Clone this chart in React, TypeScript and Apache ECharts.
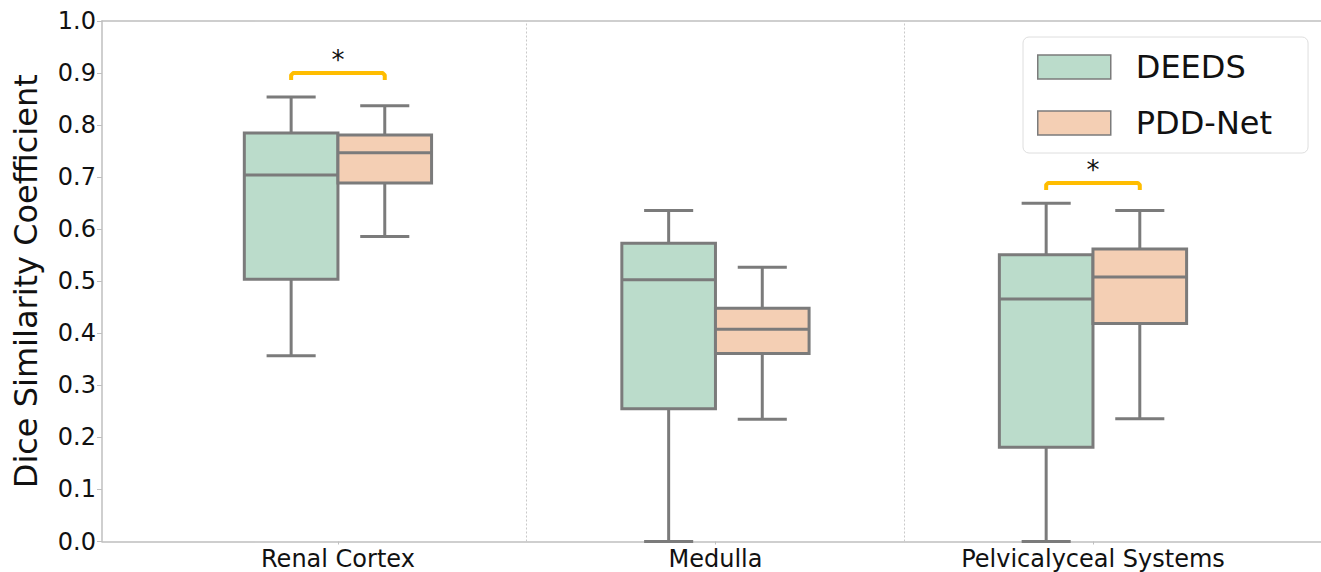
import React, { useEffect, useRef } from "react";
import * as echarts from "echarts";

const categories = ["Renal Cortex", "Medulla", "Pelvicalyceal Systems"];
const catIndex = [0, 1, 2];
const tickValues = [0, 0.1, 0.2, 0.3, 0.4, 0.5, 0.6, 0.7, 0.8, 0.9, 1.0];

// DEEDS: lower whisker, Q1, median, Q3, upper whisker
const deedsLow = [0.357, 0.0, 0.0];
const deedsQ1 = [0.504, 0.255, 0.181];
const deedsMed = [0.704, 0.503, 0.466];
const deedsQ3 = [0.785, 0.573, 0.551];
const deedsHigh = [0.854, 0.636, 0.65];

// PDD-Net
const pddLow = [0.586, 0.235, 0.236];
const pddQ1 = [0.689, 0.361, 0.419];
const pddMed = [0.747, 0.408, 0.508];
const pddQ3 = [0.781, 0.448, 0.562];
const pddHigh = [0.837, 0.527, 0.636];

// significance brackets
const sigCats = [0, 2];
const sigLevels = [0.9, 0.689];
const sigLabels = ["*", "*"];

const separators = [0.5, 1.5];

const GREEN = "#bbdccb";
const PEACH = "#f4cfb4";
const LINE = "#7b7b7b";
const SPINE = "#bfbfbf";
const FONT = "DejaVu Sans";
const HALF = 0.124;
const CAP = 0.065;
const X_MIN = -0.625;
const X_MAX = 2.604;

function boxRenderer(offset: number) {
  return (params: any, api: any) => {
    const c = api.value(0) + offset;
    const lo = api.value(1);
    const q1 = api.value(2);
    const med = api.value(3);
    const q3 = api.value(4);
    const hi = api.value(5);
    const tl = api.coord([c - HALF, q3]);
    const br = api.coord([c + HALF, q1]);
    const mid = api.coord([c, med]);
    const pHi = api.coord([c, hi]);
    const pLo = api.coord([c, lo]);
    const capL = api.coord([c - CAP, 0])[0];
    const capR = api.coord([c + CAP, 0])[0];
    const ls = { stroke: LINE, lineWidth: 3 };
    const fill = api.visual("color");
    return {
      type: "group",
      children: [
        { type: "line", shape: { x1: pHi[0], y1: pHi[1], x2: pHi[0], y2: tl[1] }, style: ls },
        { type: "line", shape: { x1: pLo[0], y1: br[1], x2: pLo[0], y2: pLo[1] }, style: ls },
        { type: "line", shape: { x1: capL, y1: pHi[1], x2: capR, y2: pHi[1] }, style: ls },
        { type: "line", shape: { x1: capL, y1: pLo[1], x2: capR, y2: pLo[1] }, style: ls },
        {
          type: "rect",
          shape: { x: tl[0], y: tl[1], width: br[0] - tl[0], height: br[1] - tl[1] },
          style: { fill, stroke: LINE, lineWidth: 3 },
        },
        { type: "line", shape: { x1: tl[0], y1: mid[1], x2: br[0], y2: mid[1] }, style: ls },
      ],
    };
  };
}

function sigRenderer(params: any, api: any) {
  const c = api.value(0);
  const h = api.value(1);
  const l = api.coord([c - HALF, h]);
  const r = api.coord([c + HALF, h]);
  const drop = 7;
  return {
    type: "group",
    children: [
      {
        type: "polyline",
        shape: {
          points: [
            [l[0], l[1] + drop],
            [l[0], l[1] + 2],
            [l[0] + 2, l[1]],
            [r[0] - 2, r[1]],
            [r[0], r[1] + 2],
            [r[0], r[1] + drop],
          ],
        },
        style: { stroke: "#ffbd00", lineWidth: 4, fill: "none", lineJoin: "round", lineCap: "butt" },
      },
      {
        type: "text",
        style: {
          text: sigLabels[params.dataIndex],
          x: (l[0] + r[0]) / 2,
          y: l[1] - 13,
          fill: "#111",
          font: `26px "${FONT}"`,
          align: "center",
          verticalAlign: "middle",
        },
      },
    ],
  };
}

export default function App() {
  const ref = useRef<HTMLDivElement>(null);
  useEffect(() => {
    if (!ref.current) return;
    const chart = echarts.init(ref.current, undefined, { renderer: "svg" });
    const deedsData = catIndex.map((c, i) => [c, deedsLow[i], deedsQ1[i], deedsMed[i], deedsQ3[i], deedsHigh[i]]);
    const pddData = catIndex.map((c, i) => [c, pddLow[i], pddQ1[i], pddMed[i], pddQ3[i], pddHigh[i]]);
    const sigData = sigCats.map((c, i) => [c, sigLevels[i]]);
    chart.setOption({
      animation: false,
      backgroundColor: "#ffffff",
      textStyle: { fontFamily: FONT },
      grid: {
        left: 102,
        top: 21,
        right: 0,
        bottom: 30.5,
        show: false,
      },
      legend: {
        left: 1023,
        top: 37,
        orient: "vertical",
        icon: "rect",
        itemWidth: 73,
        itemHeight: 24,
        itemGap: 24,
        padding: [14, 36, 14, 14],
        backgroundColor: "#ffffff",
        borderColor: "#dedede",
        borderWidth: 1,
        borderRadius: 6,
        textStyle: { fontSize: 32, color: "#111", fontFamily: FONT, padding: [0, 0, 0, 20] },
        data: [
          { name: "DEEDS", itemStyle: { color: GREEN, borderColor: LINE, borderWidth: 1.5 } },
          { name: "PDD-Net", itemStyle: { color: PEACH, borderColor: LINE, borderWidth: 1.5 } },
        ],
      },
      xAxis: [
        {
          type: "value",
          min: X_MIN,
          max: X_MAX,
          axisLine: { show: true, onZero: false, lineStyle: { color: SPINE, width: 1.5 } },
          axisTick: { show: true, length: 3, customValues: catIndex, lineStyle: { color: SPINE } },
          axisLabel: {
            customValues: catIndex,
            formatter: (v: number) => categories[Math.round(v)] ?? "",
            fontSize: 24,
            color: "#111",
            margin: 5,
            fontFamily: FONT,
          },
          splitLine: { show: false },
        },
        {
          type: "value",
          position: "top",
          min: X_MIN,
          max: X_MAX,
          axisLine: { show: true, onZero: false, lineStyle: { color: SPINE, width: 1.5 } },
          axisTick: { show: false },
          axisLabel: { show: false },
          splitLine: { show: false },
        },
      ],
      yAxis: {
        type: "value",
        min: 0,
        max: 1,
        interval: 0.1,
        name: "Dice Similarity Coefficient",
        nameLocation: "middle",
        nameGap: 60,
        nameTextStyle: { fontSize: 32, color: "#111", fontFamily: FONT },
        axisLine: { show: true, onZero: false, lineStyle: { color: SPINE, width: 1.5 } },
        axisTick: { show: true, length: 5, lineStyle: { color: SPINE } },
        axisLabel: {
          fontSize: 24,
          color: "#111",
          margin: 6,
          fontFamily: FONT,
          formatter: (v: number) => v.toFixed(1),
          customValues: tickValues,
        },
        splitLine: { show: false },
      },
      series: [
        {
          name: "DEEDS",
          type: "custom",
          renderItem: boxRenderer(-HALF),
          itemStyle: { color: GREEN },
          data: deedsData,
          encode: { x: 0, y: [1, 2, 3, 4, 5] },
          clip: false,
          z: 3,
          markLine: {
            silent: true,
            symbol: "none",
            label: { show: false },
            lineStyle: { color: "#c9c9c9", type: [2, 2], width: 1 },
            data: separators.map((s) => ({ xAxis: s })),
            z: 1,
          },
        },
        {
          name: "PDD-Net",
          type: "custom",
          renderItem: boxRenderer(HALF),
          itemStyle: { color: PEACH },
          data: pddData,
          encode: { x: 0, y: [1, 2, 3, 4, 5] },
          clip: false,
          z: 3,
        },
        {
          name: "sig",
          type: "custom",
          renderItem: sigRenderer,
          data: sigData,
          encode: { x: 0, y: 1 },
          clip: false,
          z: 4,
        },
      ],
    });
    return () => chart.dispose();
  }, []);
  return (
    <div
      ref={ref}
      style={{ position: "fixed", left: 0, top: 0, width: 1321, height: 572 }}
    />
  );
}
